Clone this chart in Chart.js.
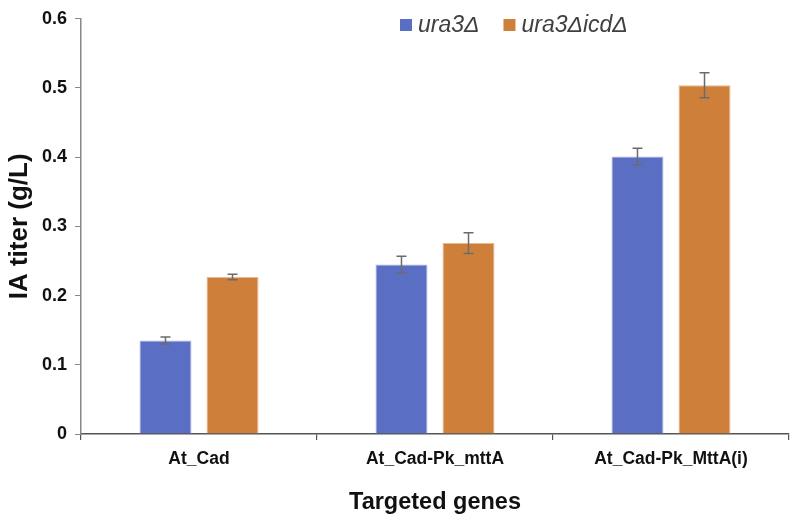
<!DOCTYPE html>
<html>
<head>
<meta charset="utf-8">
<script src="https://cdn.jsdelivr.net/npm/chart.js@4.4.1/dist/chart.umd.min.js"></script>
<style>
    html, body { margin: 0; padding: 0; background: #fff; }
    #wrap { width: 791px; height: 517px; }
</style>
</head>
<body>
<div id="wrap"><canvas id="chart"></canvas></div>
<script>
const categories = ["At_Cad", "At_Cad-Pk_mttA", "At_Cad-Pk_MttA(i)"];
const seriesNames = ["ura3\u0394", "ura3\u0394icd\u0394"];
const ura3Values = [0.135, 0.245, 0.401];
const ura3Errors = [0.005, 0.012, 0.012];
const icdValues = [0.227, 0.276, 0.504];
const icdErrors = [0.004, 0.015, 0.018];
const yTicks = [0, 0.1, 0.2, 0.3, 0.4, 0.5, 0.6];

const blue = "#5A6FC3";
const orange = "#CE803B";

// error bars drawn from the errors array kept on each dataset
const errorBars = {
    id: "errorBars",
    afterDatasetsDraw(chart) {
        const {ctx, scales: {y}} = chart;
        ctx.save();
        ctx.strokeStyle = "#6b6b6b";
        ctx.lineWidth = 1.5;
        chart.data.datasets.forEach((ds, i) => {
            let meta = chart.getDatasetMeta(i);
            meta.data.forEach((bar, j) => {
                let v = ds.data[j], e = ds.errors[j];
                let top = y.getPixelForValue(v + e);
                let bot = y.getPixelForValue(v - e);
                ctx.beginPath();
                ctx.moveTo(bar.x, top);
                ctx.lineTo(bar.x, bot);
                ctx.moveTo(bar.x - 5, top);
                ctx.lineTo(bar.x + 5, top);
                ctx.moveTo(bar.x - 5, bot);
                ctx.lineTo(bar.x + 5, bot);
                ctx.stroke();
            });
        });
        ctx.restore();
    }
};

// legend sits over the plot, right of centre
const topLegend = {
    id: "topLegend",
    afterDraw(chart) {
        const ctx = chart.ctx;
        let x = 400, y = 25;
        ctx.save();
        ctx.font = "italic 23px 'Liberation Sans', Arial, sans-serif";
        ctx.textBaseline = "middle";
        chart.data.datasets.forEach((ds) => {
            ctx.fillStyle = ds.backgroundColor;
            ctx.fillRect(x, y - 6, 12, 12);
            ctx.fillStyle = "#404040";
            ctx.fillText(ds.label, x + 18, y + 1);
            x += 18 + ctx.measureText(ds.label).width + 24;
        });
        ctx.restore();
    }
};

let config = {
    type: "bar",
    data: {
        labels: categories,
        datasets: [
            {
                label: seriesNames[0],
                data: ura3Values,
                errors: ura3Errors,
                backgroundColor: blue,
                borderColor: "#a9b6e6",
                borderWidth: 1
            },
            {
                label: seriesNames[1],
                data: icdValues,
                errors: icdErrors,
                backgroundColor: orange,
                borderColor: "#e8b98c",
                borderWidth: 1
            }
        ]
    },
    options: {
        responsive: true,
        maintainAspectRatio: false,
        animation: false,
        categoryPercentage: 0.568,
        barPercentage: 0.776,
        layout: {padding: {top: 7, right: 2, left: 0, bottom: 0}},
        plugins: {
            legend: {display: false},
            tooltip: {enabled: false}
        },
        scales: {
            x: {
                grid: {drawOnChartArea: false, drawTicks: true, tickLength: 6, color: "#555", lineWidth: 1.2},
                border: {color: "#555", width: 1.5},
                ticks: {
                    color: "#111",
                    padding: 9,
                    font: {family: "'Liberation Sans', Arial, sans-serif", size: 17.5, weight: "bold"}
                },
                title: {
                    display: true,
                    text: "Targeted genes",
                    color: "#111",
                    padding: {top: 26, bottom: 0},
                    font: {family: "'Liberation Sans', Arial, sans-serif", size: 23.5, weight: "bold"}
                },
                afterFit(scale) { scale.height = 83; }
            },
            y: {
                min: 0,
                max: 0.6,
                afterBuildTicks(scale) { scale.ticks = yTicks.map(v => ({value: v})); },
                grid: {drawOnChartArea: false, drawTicks: true, tickLength: 6, color: "#888"},
                border: {color: "#888", width: 1.5},
                ticks: {
                    color: "#111",
                    padding: 8,
                    font: {family: "'Liberation Sans', Arial, sans-serif", size: 18, weight: "bold"}
                },
                title: {
                    display: true,
                    text: "IA titer (g/L)",
                    color: "#111",
                    padding: {bottom: 8},
                    font: {family: "'Liberation Sans', Arial, sans-serif", size: 26, weight: "bold"}
                },
                afterFit(scale) { scale.width = 81; }
            }
        }
    },
    plugins: [errorBars, topLegend]
};

let chart = new Chart(document.getElementById("chart").getContext("2d"), config);
</script>
</body>
</html>
